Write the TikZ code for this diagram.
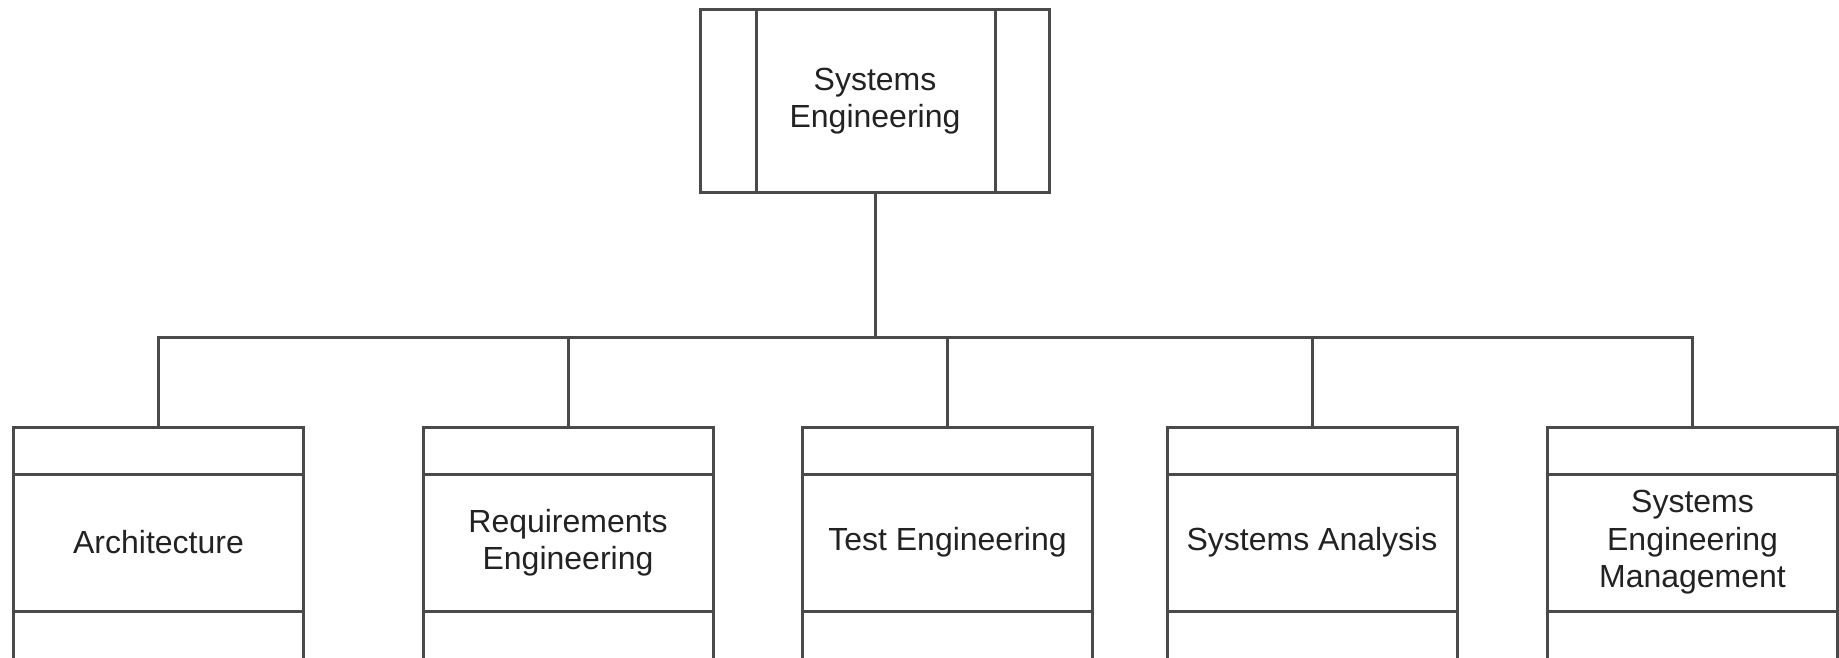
\documentclass[tikz,border=0pt]{standalone}
\usepackage{fontspec}
\setmainfont{Liberation Sans}
\definecolor{edge}{HTML}{4A4A4A}
\definecolor{ink}{HTML}{222222}
\begin{document}
\begin{tikzpicture}[x=1pt,y=-1pt,
  frame/.style={draw=edge, line width=3pt, rectangle, inner sep=0pt},
  label/.style={frame, minimum width=290pt, align=center, text=ink,
                font=\fontsize{32}{37.5}\selectfont},
  wire/.style={draw=edge, line width=3pt}]
\useasboundingbox (0,0) rectangle (1839,658);
\clip (0,0) rectangle (1839,658);

% root unit with side bars
\node[frame, minimum width=349pt, minimum height=182pt, align=center, text=ink,
      font=\fontsize{32}{37.5}\selectfont] (root) at (875,101)
      {Systems\\Engineering};
\draw[wire] ([xshift=57pt]root.north west) -- ([xshift=57pt]root.south west);
\draw[wire] ([xshift=-56pt]root.north east) -- ([xshift=-56pt]root.south east);

% sub-units: header, named body, open footer
\foreach \id/\cx/\txt in {arch/158.5/Architecture,
                          req/568/{Requirements\\Engineering},
                          test/947.5/Test Engineering,
                          ana/1312/Systems Analysis,
                          mgmt/1692.5/{Systems\\Engineering\\Management}} {
  \node[label, minimum height=47pt] (\id h) at (\cx,450.5) {};
  \node[label, minimum height=137pt] (\id) at (\cx,542.5) {\txt};
  \node[label, minimum height=100pt] (\id f) at (\cx,661) {};
}

% distribution bus
\coordinate (bus) at (875,337);
\draw[wire] (root.south) -- (bus);
\foreach \id in {arch,req,test,ana,mgmt}
  \draw[wire] (bus) -| (\id h.north);
\end{tikzpicture}
\end{document}
